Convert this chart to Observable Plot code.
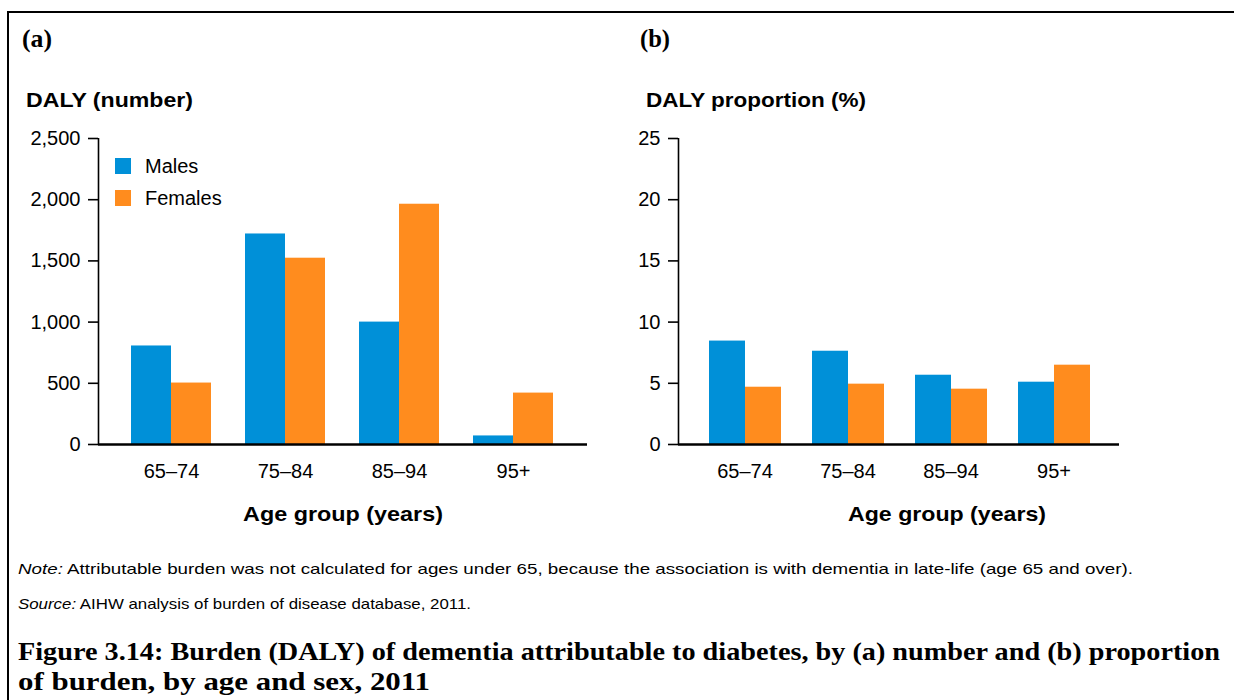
<!DOCTYPE html>
<html>
<head>
<meta charset="utf-8">
<script src="https://cdn.jsdelivr.net/npm/d3@7"></script>
<script src="https://cdn.jsdelivr.net/npm/@observablehq/plot@0.6"></script>
<style>
  html, body { margin: 0; padding: 0; background: #fff; }
  #page { position: relative; width: 1234px; height: 700px; overflow: hidden; background: #fff; }
  .abs { position: absolute; }
  .chart > svg { position: absolute; left: 0; top: 0; max-width: none !important; background: transparent !important; }
  #border { position: absolute; left: 7px; top: 11px; width: 1227px; height: 689px; border-top: 2px solid #000; border-left: 2px solid #000; box-sizing: border-box; }
  #overlay { position: absolute; left: 0; top: 0; pointer-events: none; }
  .lg-swatch { height: 32px; padding-bottom: 0 !important; margin: 0 !important; }
  .lg-swatch svg { margin-right: 14px !important; }
  .lg-swatches { margin: 0 !important; }
</style>
</head>
<body>
<div id="page">
  <div id="border"></div>
  <div id="chartA" class="abs chart" style="left:0px; top:120px; width:600px; height:414px;"></div>
  <div id="chartB" class="abs chart" style="left:600px; top:120px; width:634px; height:414px;"></div>
  <div id="legend" class="abs" style="left:115px; top:150px;"></div>
  <svg id="overlay" width="1234" height="700"></svg>
</div>
<script>
// ---- data ----
const ages = ["65–74", "75–84", "85–94", "95+"];
const sexes = ["Males", "Females"];
const sexColors = ["#0090d8", "#ff8c1e"];
const dalyMales = [805, 1720, 1000, 70];
const dalyFemales = [502, 1522, 1963, 420];
const pctMales = [8.45, 7.62, 5.66, 5.09];
const pctFemales = [4.68, 4.93, 4.52, 6.48];
const dalyTicks = [0, 500, 1000, 1500, 2000, 2500];
const pctTicks = [0, 5, 10, 15, 20, 25];

function rows(m, f) {
  return ages.flatMap((a, i) => [
    {age: a, sex: sexes[0], value: m[i]},
    {age: a, sex: sexes[1], value: f[i]}
  ]);
}

const font = "'Liberation Sans', Arial, sans-serif";
const baseStyle = {fontFamily: font, fontSize: "20px", color: "#000", background: "transparent", overflow: "visible", maxWidth: "none"};

function chart(el, data, ticks, fmt, width, marginLeft, marginRight) {
  const dims = {width, height: 414, marginLeft, marginRight, marginTop: 18, marginBottom: 90};
  const yDomain = [0, ticks[ticks.length - 1]];
  // bars, grouped by age (fx facets) and sex (x within facet)
  const bars = Plot.plot({
    ...dims,
    style: baseStyle,
    fx: {domain: ages, paddingInner: 0.295, paddingOuter: 0.275, axis: "bottom", tickSize: 0, tickPadding: 19, label: null},
    x: {domain: sexes, padding: 0, axis: null},
    y: {domain: yDomain, axis: null},
    color: {domain: sexes, range: sexColors},
    marks: [
      Plot.barY(data, {fx: "age", x: "sex", y: "value", fill: "sex"})
    ]
  });
  // axes: y axis with ticks, vertical axis line and baseline spanning the whole frame
  const axes = Plot.plot({
    ...dims,
    style: baseStyle,
    x: {domain: [0, 1], axis: null},
    y: {domain: yDomain},
    marks: [
      Plot.axisY({ticks, tickSize: 10, tickPadding: 8, tickFormat: fmt, label: null, strokeWidth: 1.6}),
      Plot.ruleX([0], {strokeWidth: 1.6}),
      Plot.ruleY([0], {strokeWidth: 2.6})
    ]
  });
  el.append(bars, axes);
}

chart(document.getElementById("chartA"), rows(dalyMales, dalyFemales), dalyTicks, d3.format(","), 600, 98, 13);
chart(document.getElementById("chartB"), rows(pctMales, pctFemales), pctTicks, d3.format("d"), 634, 78, 115);

document.getElementById("legend").append(
  Plot.legend({
    color: {domain: sexes, range: sexColors, type: "ordinal"},
    columns: 1, swatchSize: 16, className: "lg",
    style: {fontFamily: font, fontSize: "20px", color: "#000"}
  })
);

// ---- overlay texts ----
const svg = d3.select("#overlay");
const sans = font;
const serif = "'Liberation Serif', 'Times New Roman', serif";
function txt(x, y, parts, size, family, weight, length, anchor) {
  const t = svg.append("text").attr("x", x).attr("y", y)
    .attr("font-size", size).attr("font-family", family).attr("font-weight", weight || "normal")
    .attr("fill", "#000").attr("text-anchor", anchor || "start");
  if (length) t.attr("textLength", length).attr("lengthAdjust", "spacingAndGlyphs");
  for (const p of parts) {
    const s = t.append("tspan").text(p.t);
    if (p.i) s.attr("font-style", "italic");
  }
  return t;
}
txt(22, 47, [{t: "(a)"}], 26, serif, "bold", 30);
txt(640, 47, [{t: "(b)"}], 26, serif, "bold", 30);
txt(26, 107, [{t: "DALY (number)"}], 21, sans, "bold", 167);
txt(646, 107, [{t: "DALY proportion (%)"}], 21, sans, "bold", 220);
txt(243, 521, [{t: "Age group (years)"}], 21, sans, "bold", 200);
txt(848, 521, [{t: "Age group (years)"}], 21, sans, "bold", 198);
txt(18, 574, [{t: "Note:", i: true}, {t: " Attributable burden was not calculated for ages under 65, because the association is with dementia in late-life (age 65 and over)."}], 15, sans, "normal", 1115);
txt(18, 609, [{t: "Source:", i: true}, {t: " AIHW analysis of burden of disease database, 2011."}], 15, sans, "normal", 453);
txt(18, 660, [{t: "Figure 3.14: Burden (DALY) of dementia attributable to diabetes, by (a) number and (b) proportion"}], 25, serif, "bold", 1202);
txt(18, 690, [{t: "of burden, by age and sex, 2011"}], 25, serif, "bold", 412);
</script>
</body>
</html>
